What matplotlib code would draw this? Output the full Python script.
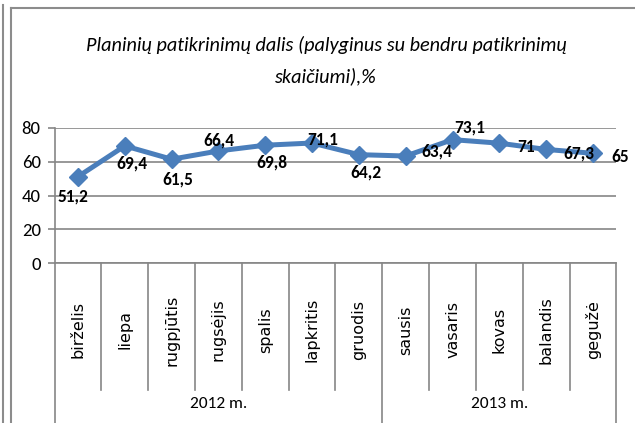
import matplotlib
matplotlib.use("Agg")
import matplotlib.pyplot as plt
import matplotlib.transforms as mtransforms
from matplotlib.lines import Line2D

months = ["birželis", "liepa", "rugpjūtis", "rugsėjis", "spalis", "lapkritis",
          "gruodis", "sausis", "vasaris", "kovas", "balandis", "gegužė"]
years = ["2012 m.", "2013 m."]
year_spans = [(0, 7), (7, 12)]
values = [51.2, 69.4, 61.5, 66.4, 69.8, 71.1, 64.2, 63.4, 73.1, 71, 67.3, 65]
value_labels = ["51,2", "69,4", "61,5", "66,4", "69,8", "71,1", "64,2", "63,4",
                "73,1", "71", "67,3", "65"]
label_offsets = [(-5, -20), (7, -18), (6, -20), (0, 10), (7, -17), (11, 4),
                 (7, -18), (31, 5), (17, 12), (27, -4), (33, -4), (27, -4)]
yticks = [0, 20, 40, 60, 80]
title_lines = ["Planinių patikrinimų dalis (palyginus su bendru patikrinimų",
               "skaičiumi),%"]

CAL = ["Carlito", "DejaVu Sans"]
W, H = 635, 423
fig = plt.figure(figsize=(W / 100, H / 100), dpi=100)
fig.patch.set_facecolor("white")

ax = fig.add_axes([54.6 / W, (H - 263) / H, (616.4 - 54.6) / W, 135 / H])
x = list(range(len(months)))
ax.plot(x, values, color="#4A7EBB", lw=3.6, marker="D", ms=9.5,
        markerfacecolor="#4A7EBB", markeredgecolor="#4A7EBB", zorder=3,
        clip_on=False)
for xi, v, lab, (dx, dy) in zip(x, values, value_labels, label_offsets):
    ax.annotate(lab, (xi, v), xytext=(dx, dy), textcoords="offset pixels",
                ha="center", va="center", fontsize=12.5, fontweight="bold",
                family=CAL, color="black", zorder=4)

ax.set_xlim(-0.5, len(months) - 0.5)
ax.set_ylim(0, 80)
ax.set_yticks(yticks)
ax.set_yticklabels([str(t) for t in yticks], family=CAL, fontsize=13.5)
ax.grid(axis="y", color="#868686", lw=1.2)
ax.set_axisbelow(True)
ax.set_xticks([])
for s in ["top", "right"]:
    ax.spines[s].set_visible(False)
for s in ["left", "bottom"]:
    ax.spines[s].set_color("#868686")
    ax.spines[s].set_linewidth(1.2)
ax.tick_params(axis="y", length=5, width=1.2, color="#868686", pad=5)

trans = mtransforms.blended_transform_factory(ax.transData, ax.transAxes)
year_bounds = set()
for a, b in year_spans:
    year_bounds.add(a)
    year_bounds.add(b)
for k in range(len(months) + 1):
    y_end = -1.2 if k in year_bounds else -0.941
    ax.add_line(Line2D([k - 0.5, k - 0.5], [0, y_end], transform=trans,
                       color="#868686", lw=1.2, clip_on=False))
for i, m in enumerate(months):
    ax.text(i, -0.496, m, transform=trans, rotation=90, ha="center",
            va="center", fontsize=11.5, family="DejaVu Sans")
for (a, b), yl in zip(year_spans, years):
    ax.text((a + b - 1) / 2, -1.044, yl, transform=trans, ha="center",
            va="center", fontsize=12.5, family=CAL)

for line, ypx in zip(title_lines, [45, 76]):
    fig.text(326 / W, 1 - ypx / H, line, ha="center", va="center",
             fontsize=14.6, style="italic", family=CAL)

# outer frame lines
fig.add_artist(Line2D([11 / W, 1], [1 - 8 / H, 1 - 8 / H],
                      transform=fig.transFigure, color="#8C8C8C", lw=1.5))
fig.add_artist(Line2D([11 / W, 11 / W], [0, 1 - 8 / H],
                      transform=fig.transFigure, color="#8C8C8C", lw=1.5))
fig.add_artist(Line2D([3 / W, 3 / W], [0, 1 - 5 / H],
                      transform=fig.transFigure, color="#8C8C8C", lw=1.5))

fig.savefig("out.png", dpi=100)
